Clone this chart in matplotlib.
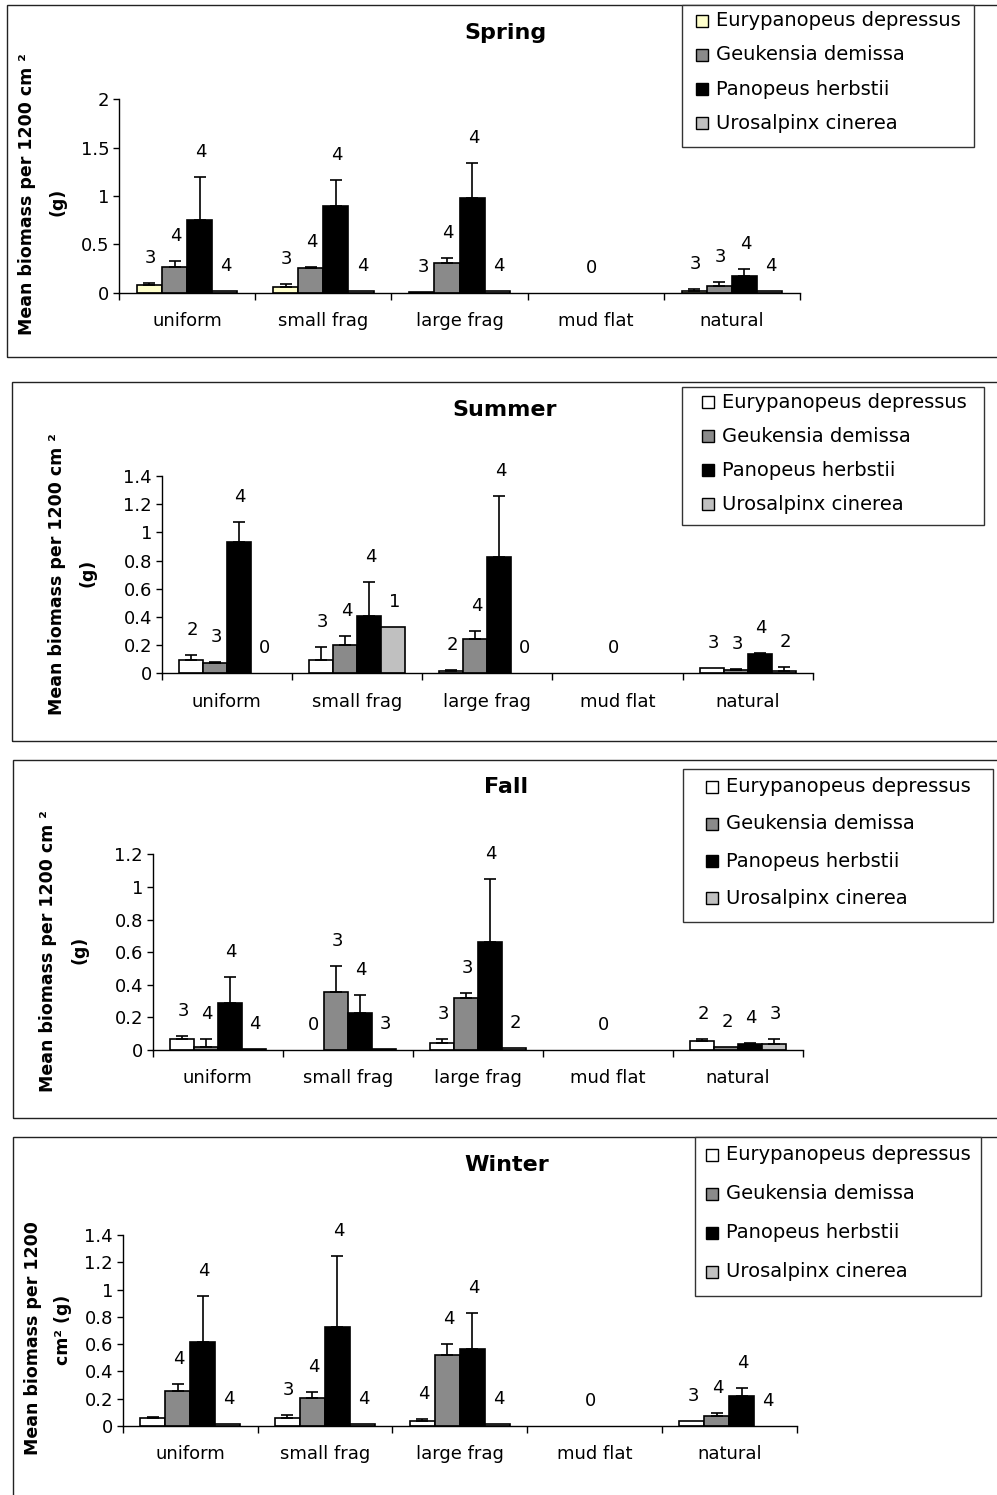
import numpy as np
import matplotlib
matplotlib.use('Agg')
import matplotlib.pyplot as plt
from matplotlib.patches import Rectangle

W, H = 997, 1495
DPI = 100

categories = ['uniform', 'small frag', 'large frag', 'mud flat', 'natural']
species = ['Eurypanopeus depressus', 'Geukensia demissa',
           'Panopeus herbstii', 'Urosalpinx cinerea']

# rows: species (E, G, P, U); columns: categories
spring_means = [
    [0.08, 0.06, 0.01, 0.0, 0.015],
    [0.27, 0.26, 0.31, 0.0, 0.07],
    [0.75, 0.90, 0.98, 0.0, 0.17],
    [0.02, 0.02, 0.02, 0.0, 0.02],
]
spring_errs = [
    [0.02, 0.035, 0.0, 0.0, 0.02],
    [0.06, 0.01, 0.05, 0.0, 0.045],
    [0.45, 0.27, 0.36, 0.0, 0.08],
    [0.0, 0.0, 0.0, 0.0, 0.0],
]
spring_n = [
    ['3', '3', '3', '', '3'],
    ['4', '4', '4', '', '3'],
    ['4', '4', '4', '', '4'],
    ['4', '4', '4', '', '4'],
]
spring_group_n = ['', '', '', '0', '']

summer_means = [
    [0.095, 0.095, 0.017, 0.0, 0.04],
    [0.07, 0.20, 0.24, 0.0, 0.024],
    [0.934, 0.407, 0.828, 0.0, 0.137],
    [0.0, 0.33, 0.0, 0.0, 0.017],
]
summer_errs = [
    [0.035, 0.09, 0.007, 0.0, 0.0],
    [0.008, 0.065, 0.063, 0.0, 0.003],
    [0.142, 0.239, 0.43, 0.0, 0.01],
    [0.0, 0.0, 0.0, 0.0, 0.026],
]
summer_n = [
    ['2', '3', '2', '', '3'],
    ['3', '4', '4', '', '3'],
    ['4', '4', '4', '', '4'],
    ['0', '1', '0', '', '2'],
]
summer_group_n = ['', '', '', '0', '']

fall_means = [
    [0.065, 0.0, 0.045, 0.0, 0.055],
    [0.02, 0.354, 0.321, 0.0, 0.016],
    [0.29, 0.225, 0.665, 0.0, 0.035],
    [0.008, 0.008, 0.01, 0.0, 0.035],
]
fall_errs = [
    [0.021, 0.0, 0.02, 0.0, 0.015],
    [0.045, 0.161, 0.027, 0.0, 0.0],
    [0.16, 0.112, 0.384, 0.0, 0.01],
    [0.0, 0.0, 0.0, 0.0, 0.035],
]
fall_n = [
    ['3', '0', '3', '', '2'],
    ['4', '3', '3', '', '2'],
    ['4', '4', '4', '', '4'],
    ['4', '3', '2', '', '3'],
]
fall_group_n = ['', '', '', '0', '']

winter_means = [
    [0.056, 0.056, 0.04, 0.0, 0.037],
    [0.257, 0.203, 0.52, 0.0, 0.076],
    [0.618, 0.728, 0.562, 0.0, 0.22],
    [0.015, 0.015, 0.015, 0.0, 0.0],
]
winter_errs = [
    [0.012, 0.024, 0.014, 0.0, 0.0],
    [0.051, 0.047, 0.08, 0.0, 0.017],
    [0.335, 0.518, 0.268, 0.0, 0.06],
    [0.0, 0.0, 0.0, 0.0, 0.0],
]
winter_n = [
    ['', '3', '4', '', '3'],
    ['4', '4', '4', '', '4'],
    ['4', '4', '4', '', '4'],
    ['4', '4', '4', '', '4'],
]
winter_group_n = ['', '', '', '0', '']

plt.rcParams['font.family'] = ['DejaVu Sans']

COL_G = '#8a8a8a'
COL_P = '#000000'
COL_U = '#c0c0c0'

seasons = [
    dict(title='Spring', means=spring_means, errs=spring_errs, n=spring_n,
         group_n=spring_group_n, ymax=2.0, ystep=0.5, e_color='#FFFFCC',
         axes_px=(119, 99.3, 800, 292.7), panel_px=(7, 5, 1010, 357),
         title_px=(505, 33),
         ylab=('Mean biomass per 1200 cm ²', '(g)'),
         ylab_px=(27, 335, 58, 202),
         leg_box=(682, 5, 974, 147), leg_rows=(20.7, 34.2),
         leg_mx=702, leg_tx=716),
    dict(title='Summer', means=summer_means, errs=summer_errs, n=summer_n,
         group_n=summer_group_n, ymax=1.4, ystep=0.2, e_color='#FFFFFF',
         axes_px=(161.7, 476, 813, 673.3), panel_px=(11.7, 381.7, 1010, 741),
         title_px=(505, 410),
         ylab=('Mean biomass per 1200 cm ²', '(g)'),
         ylab_px=(57, 715, 87, 573),
         leg_box=(682, 387.3, 984, 525.3), leg_rows=(402, 34),
         leg_mx=708, leg_tx=722),
    dict(title='Fall', means=fall_means, errs=fall_errs, n=fall_n,
         group_n=fall_group_n, ymax=1.2, ystep=0.2, e_color='#FFFFFF',
         axes_px=(152.7, 854.3, 802.7, 1050), panel_px=(12.7, 760, 1010, 1118),
         title_px=(506, 787),
         ylab=('Mean biomass per 1200 cm ²', '(g)'),
         ylab_px=(48, 1092, 80, 950),
         leg_box=(683, 769.3, 993, 922.3), leg_rows=(786.7, 37.2),
         leg_mx=712, leg_tx=726),
    dict(title='Winter', means=winter_means, errs=winter_errs, n=winter_n,
         group_n=winter_group_n, ymax=1.4, ystep=0.2, e_color='#FFFFFF',
         axes_px=(122.7, 1235, 796.7, 1426), panel_px=(12.7, 1137, 1010, 1520),
         title_px=(507, 1165),
         ylab=('Mean biomass per 1200', 'cm² (g)'),
         ylab_px=(33, 1455, 63, 1330),
         leg_box=(695, 1137, 981, 1296), leg_rows=(1155, 38.9),
         leg_mx=712, leg_tx=726),
]

fig = plt.figure(figsize=(W / DPI, H / DPI), dpi=DPI)
fig.patch.set_facecolor('white')


def fx(x):
    return x / W


def fy(y):
    return 1 - y / H


BAR_W = 0.185
TICK_FS = 13
LEG_FS = 14

for s in seasons:
    # panel border
    x0, y0, x1, y1 = s['panel_px']
    fig.add_artist(Rectangle((fx(x0), fy(y1)), fx(x1 - x0), (y1 - y0) / H,
                             transform=fig.transFigure, facecolor='none',
                             edgecolor='#222222', linewidth=1.0, zorder=0))
    ax_l, ax_t, ax_r, ax_b = s['axes_px']
    ax = fig.add_axes([fx(ax_l), fy(ax_b), (ax_r - ax_l) / W, (ax_b - ax_t) / H])
    ax.set_facecolor('none')
    colors = [s['e_color'], COL_G, COL_P, COL_U]
    centers = np.arange(len(categories)) + 0.5
    for k in range(4):
        xs = centers + (k - 1.5) * BAR_W
        means = np.array(s['means'][k])
        errs = np.array(s['errs'][k])
        bars = ax.bar(xs, means, width=BAR_W, color=colors[k],
                      edgecolor='black', linewidth=1.2, zorder=2)
        for b, m in zip(bars, means):
            if m == 0:
                b.set_linewidth(0)
        mask = errs > 0
        if mask.any():
            ax.errorbar(xs[mask], means[mask],
                        yerr=[np.zeros(mask.sum()), errs[mask]],
                        fmt='none', ecolor='black', elinewidth=1.2,
                        capsize=4, capthick=1.2, zorder=3)
        for i, lab in enumerate(s['n'][k]):
            if lab:
                ax.annotate(lab, xy=(xs[i], means[i] + errs[i]),
                            xytext=(1, 18), textcoords='offset points',
                            ha='center', va='center', fontsize=TICK_FS,
                            annotation_clip=False)
    for i, lab in enumerate(s['group_n']):
        if lab:
            ax.annotate(lab, xy=(centers[i], 0), xytext=(-3, 18),
                        textcoords='offset points', ha='center', va='center',
                        fontsize=TICK_FS, annotation_clip=False)

    ax.set_xlim(0, len(categories))
    ax.set_ylim(0, s['ymax'])
    yt = np.arange(0, s['ymax'] + 1e-9, s['ystep'])
    ax.set_yticks(yt)
    ax.set_yticklabels(['{:g}'.format(round(v, 2)) for v in yt])
    ax.set_xticks(np.arange(len(categories) + 1))
    ax.set_xticklabels([])
    ax.set_xticks(centers, minor=True)
    ax.set_xticklabels(categories, minor=True)
    ax.tick_params(axis='x', which='major', direction='out', length=5,
                   width=1, color='black')
    ax.tick_params(axis='x', which='minor', length=0, pad=14,
                   labelsize=TICK_FS)
    ax.tick_params(axis='y', direction='out', length=4, width=1, pad=3,
                   labelsize=TICK_FS)
    for sp in ['top', 'right']:
        ax.spines[sp].set_visible(False)
    for sp in ['left', 'bottom']:
        ax.spines[sp].set_linewidth(1.0)
        ax.spines[sp].set_color('black')

    # title
    tx, ty = s['title_px']
    fig.text(fx(tx), fy(ty), s['title'], ha='center', va='center',
             fontsize=16, fontweight='bold')

    # y label
    lx1, lb1, lx2, lc2 = s['ylab_px']
    fig.text(fx(lx1), fy(lb1), s['ylab'][0], rotation=90, ha='center',
             va='bottom', fontsize=12.5, fontweight='bold')
    fig.text(fx(lx2), fy(lc2), s['ylab'][1], rotation=90, ha='center',
             va='center', fontsize=12.5, fontweight='bold')

    # legend
    bx0, by0, bx1, by1 = s['leg_box']
    fig.add_artist(Rectangle((fx(bx0), fy(by1)), (bx1 - bx0) / W,
                             (by1 - by0) / H, transform=fig.transFigure,
                             facecolor='white', edgecolor='#333333',
                             linewidth=1.0, zorder=5))
    first, step = s['leg_rows']
    sq = 12
    for k, name in enumerate(species):
        yc = first + k * step
        fig.add_artist(Rectangle((fx(s['leg_mx'] - sq / 2), fy(yc + sq / 2)),
                                 sq / W, sq / H, transform=fig.transFigure,
                                 facecolor=colors[k], edgecolor='black',
                                 linewidth=1.0, zorder=6))
        fig.text(fx(s['leg_tx']), fy(yc), name, ha='left', va='center',
                 fontsize=LEG_FS, zorder=6)

fig.savefig('out.png', dpi=DPI)
